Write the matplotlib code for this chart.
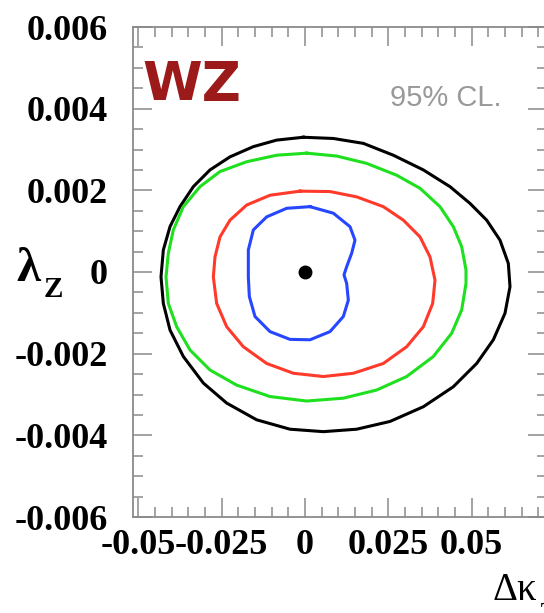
import matplotlib.pyplot as plt
from matplotlib.ticker import MultipleLocator

plt.rcParams['axes.unicode_minus'] = False

# contour points (delta kappa_Z, lambda_Z)
black_x = [-0.0005, -0.0085, -0.0155, -0.0225, -0.0285, -0.0335, -0.0375, -0.0405, -0.0425,
           -0.0432, -0.0425, -0.0405, -0.0365, -0.0305, -0.0235, -0.0145, -0.0045, 0.0055,
           0.0155, 0.0255, 0.0355, 0.0445, 0.0515, 0.0565, 0.0600, 0.0615, 0.0610, 0.0585,
           0.0545, 0.0495, 0.0435, 0.0355, 0.0265, 0.0175, 0.0085, -0.0005]
black_y = [0.00330, 0.00323, 0.00307, 0.00282, 0.00250, 0.00209, 0.00160, 0.00111, 0.00054,
           -0.00012, -0.00077, -0.00142, -0.00207, -0.00272, -0.00321, -0.00362, -0.00385, -0.00391,
           -0.00385, -0.00366, -0.00330, -0.00281, -0.00224, -0.00166, -0.00101, -0.00036, 0.00021,
           0.00078, 0.00127, 0.00168, 0.00209, 0.00250, 0.00286, 0.00315, 0.00327, 0.00330]

green_x = [0.0005, -0.0085, -0.0175, -0.0255, -0.0315, -0.0365, -0.0395, -0.0410, -0.0417,
           -0.0410, -0.0385, -0.0345, -0.0285, -0.0205, -0.0105, 0.0005, 0.0115, 0.0215,
           0.0305, 0.0385, 0.0440, 0.0470, 0.0483, 0.0483, 0.0470, 0.0445, 0.0405, 0.0345,
           0.0275, 0.0185, 0.0095, 0.0005]
green_y = [0.00291, 0.00286, 0.00270, 0.00246, 0.00209, 0.00160, 0.00103, 0.00046, -0.00012,
           -0.00077, -0.00134, -0.00191, -0.00240, -0.00277, -0.00305, -0.00316, -0.00309, -0.00289,
           -0.00256, -0.00207, -0.00150, -0.00093, -0.00028, 0.00005, 0.00062, 0.00111, 0.00160,
           0.00205, 0.00237, 0.00266, 0.00284, 0.00291]

red_x = [-0.0015, -0.0105, -0.0175, -0.0225, -0.0255, -0.0270, -0.0275, -0.0265, -0.0235,
         -0.0185, -0.0115, -0.0035, 0.0055, 0.0145, 0.0235, 0.0305, 0.0355, 0.0383, 0.0390,
         0.0375, 0.0345, 0.0295, 0.0235, 0.0155, 0.0075, -0.0015]
red_y = [0.00198, 0.00188, 0.00164, 0.00127, 0.00086, 0.00037, -0.00012, -0.00077, -0.00134,
         -0.00183, -0.00224, -0.00248, -0.00256, -0.00248, -0.00224, -0.00183, -0.00134, -0.00077,
         -0.00020, 0.00037, 0.00086, 0.00127, 0.00160, 0.00184, 0.00197, 0.00198]

blue_x = [0.0015, -0.0055, -0.0115, -0.0155, -0.0170, -0.0170, -0.0167, -0.0150, -0.0105,
          -0.0045, 0.0015, 0.0075, 0.0115, 0.0130, 0.0125, 0.0117, 0.0125, 0.0140, 0.0150,
          0.0135, 0.0085, 0.0015]
blue_y = [0.00160, 0.00156, 0.00135, 0.00103, 0.00054, -0.00012, -0.00060, -0.00109, -0.00146,
          -0.00165, -0.00166, -0.00146, -0.00109, -0.00069, -0.00028, -0.00007, 0.00013, 0.00046,
          0.00078, 0.00111, 0.00144, 0.00160]

sm_x = [0.0]
sm_y = [0.0]

x_ticks = [-0.05, -0.025, 0, 0.025, 0.05]
x_tick_labels = ["-0.05", "-0.025", "0", "0.025", "0.05"]
y_ticks = [-0.006, -0.004, -0.002, 0, 0.002, 0.004, 0.006]
y_tick_labels = ["-0.006", "-0.004", "-0.002", "0", "0.002", "0.004", "0.006"]

fig = plt.figure(figsize=(5.44, 6.13), dpi=100)
ax = fig.add_axes([133 / 544, 96 / 613, 414 / 544, 490 / 613])

lw = 2.2
ax.plot(black_x, black_y, color='black', lw=lw, solid_joinstyle='round')
ax.plot(green_x, green_y, color='#1ee01e', lw=lw, solid_joinstyle='round')
ax.plot(red_x, red_y, color='#ff3a2a', lw=lw, solid_joinstyle='round')
ax.plot(blue_x, blue_y, color='#2646ff', lw=lw, solid_joinstyle='round')
ax.plot(sm_x, sm_y, 'o', color='black', ms=9)

ax.set_xlim(-0.0516, 0.0726)
ax.set_ylim(-0.006, 0.006)

ax.set_xticks(x_ticks)
ax.set_xticklabels(x_tick_labels)
ax.set_yticks(y_ticks)
ax.set_yticklabels(y_tick_labels)
ax.xaxis.set_minor_locator(MultipleLocator(0.005))
ax.yaxis.set_minor_locator(MultipleLocator(0.0005))

grey = '#8a8a8a'
for s in ax.spines.values():
    s.set_color(grey)
    s.set_linewidth(1.3)
ax.tick_params(which='both', direction='in', top=True, right=True, color=grey, width=1.1)
ax.tick_params(which='major', length=14)
ax.tick_params(which='minor', length=7)
ax.tick_params(axis='x', which='major', pad=9)
ax.tick_params(axis='y', which='major', pad=18)
for lab in ax.get_xticklabels() + ax.get_yticklabels():
    lab.set_fontfamily('Liberation Serif')
    lab.set_fontweight('bold')
    lab.set_fontsize(26)

fig.text(142 / 544, 1 - 100 / 613, "WZ", color='#9c1a1a',
         fontsize=39, fontweight='bold', family='DejaVu Sans', va='baseline', ha='left')
fig.text(390 / 544, 1 - 98 / 613, "95% CL.", color='#999999',
         fontsize=21, family='Liberation Sans', va='center', ha='left')

fig.text(16 / 544, 1 - 281 / 613, "λ", fontsize=35, fontweight='bold',
         family='Liberation Serif', ha='left', va='baseline')
fig.text(44 / 544, 1 - 297 / 613, "Z", fontsize=21, fontweight='bold',
         family='Liberation Serif', ha='left', va='baseline')
fig.text(492 / 544, 1 - 600 / 613, "Δκ", fontsize=28,
         family='Liberation Serif', ha='left', va='baseline')
fig.text(539 / 544, 1 - 620 / 613, "Z", fontsize=19,
         family='Liberation Serif', ha='left', va='baseline')

fig.savefig('out.png', dpi=100)
